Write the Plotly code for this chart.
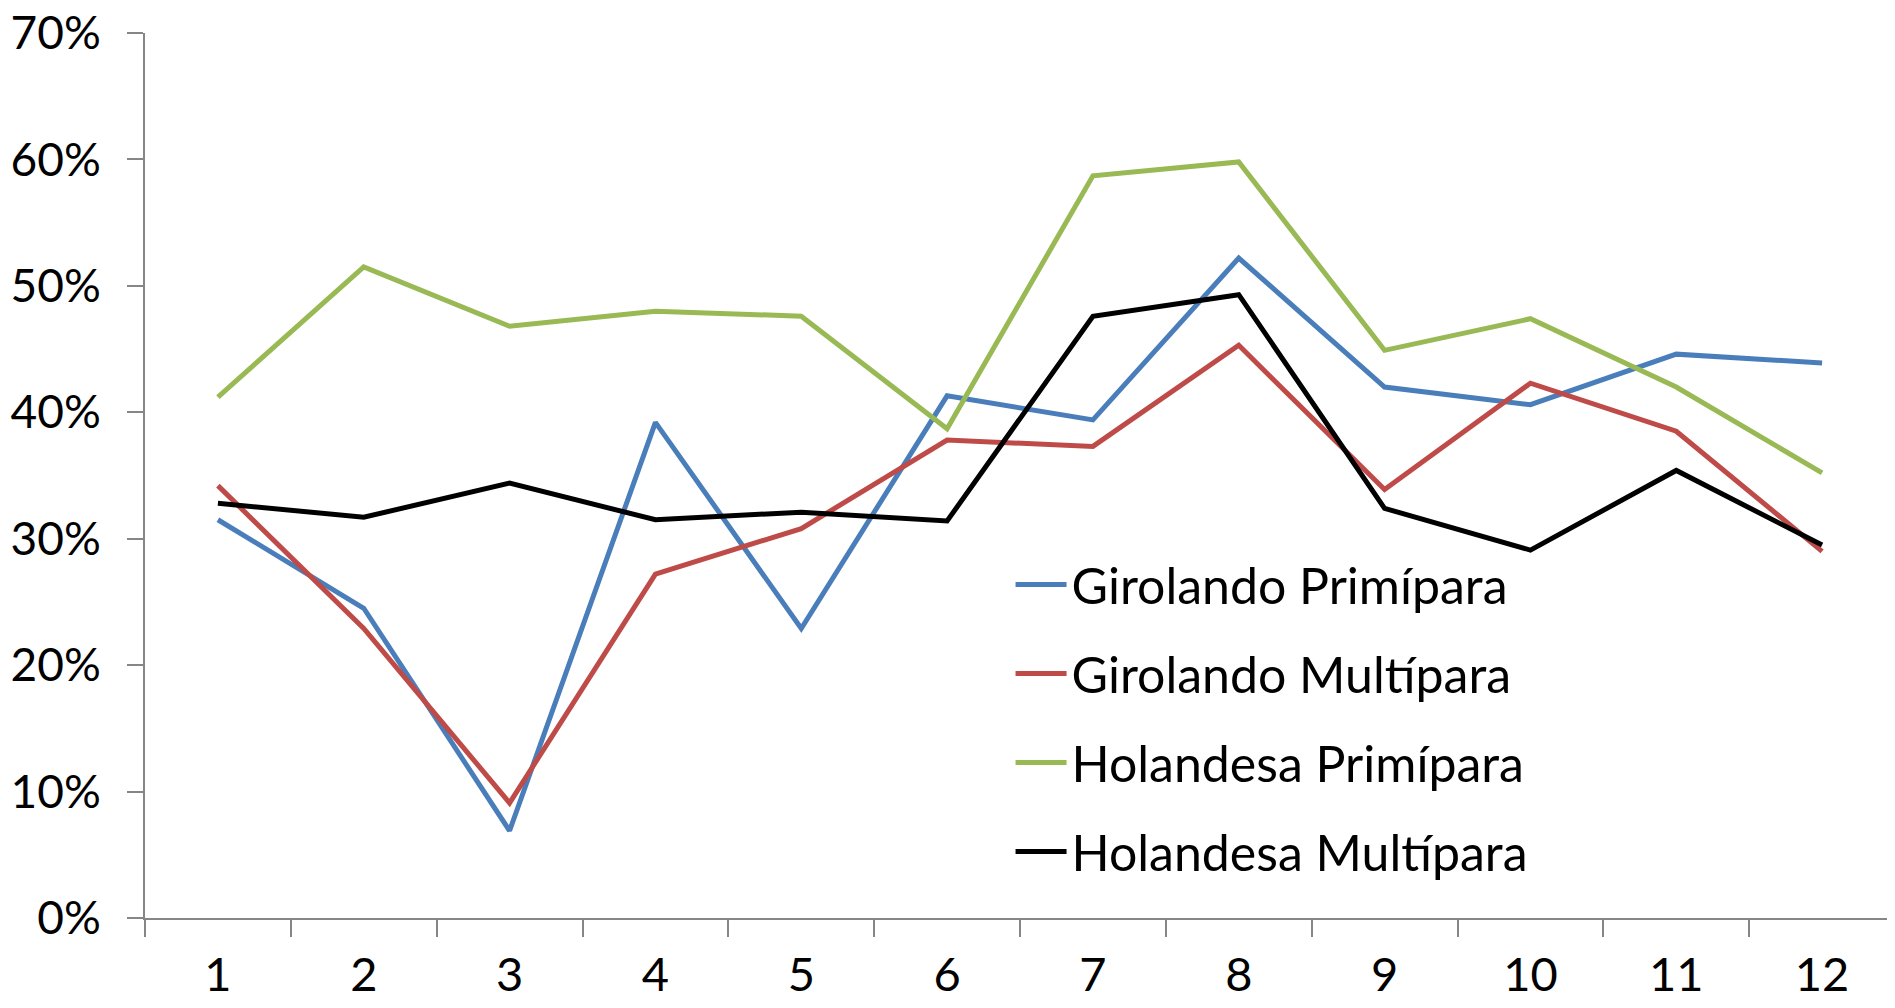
import plotly.graph_objects as go

categories = ["1", "2", "3", "4", "5", "6", "7", "8", "9", "10", "11", "12"]
girolando_primipara = [0.315, 0.245, 0.069, 0.392, 0.229, 0.413, 0.394, 0.522, 0.420, 0.406, 0.446, 0.439]
girolando_multipara = [0.342, 0.229, 0.091, 0.272, 0.308, 0.378, 0.373, 0.453, 0.339, 0.423, 0.385, 0.290]
holandesa_primipara = [0.412, 0.515, 0.468, 0.480, 0.476, 0.387, 0.587, 0.598, 0.449, 0.474, 0.420, 0.352]
holandesa_multipara = [0.328, 0.317, 0.344, 0.315, 0.321, 0.314, 0.476, 0.493, 0.324, 0.291, 0.354, 0.295]

series = [
    ("Girolando Primípara", girolando_primipara, "#4A7EBB"),
    ("Girolando Multípara", girolando_multipara, "#BE4B48"),
    ("Holandesa Primípara", holandesa_primipara, "#98B954"),
    ("Holandesa Multípara", holandesa_multipara, "#000000"),
]

fig = go.Figure()
for i, (name, vals, color) in enumerate(series):
    fig.add_trace(go.Scatter(x=categories, y=vals, name=name, mode="lines",
                             legendgroup=f"g{i}",
                             line=dict(color=color, width=5)))

font = "Lato, Carlito, Calibri, sans-serif"
fig.update_layout(
    width=1887, height=1000,
    margin=dict(l=137, r=0, t=25, b=90),
    paper_bgcolor="white", plot_bgcolor="white",
    font=dict(family=font, size=47, color="black"),
    showlegend=True,
    legend=dict(x=0.4946, y=0.421, xanchor="left", yanchor="top",
                font=dict(size=50), bgcolor="rgba(0,0,0,0)",
                traceorder="grouped", tracegroupgap=21, itemwidth=51),
    xaxis=dict(type="category", range=[-0.5, 11.5], showgrid=False,
               showline=True, linecolor="#868686", linewidth=2,
               ticks="outside", tickson="boundaries", ticklen=17,
               tickcolor="#868686", tickwidth=2, zeroline=False,
               tickfont=dict(size=47), automargin=False, ticklabelstandoff=15,
               ticklabeloverflow="allow"),
    yaxis=dict(range=[0, 0.70], dtick=0.1, tickformat=".0%", showgrid=False,
               showline=True, linecolor="#868686", linewidth=2,
               ticks="outside", ticklen=16, tickcolor="#868686", tickwidth=2,
               zeroline=False, tickfont=dict(size=46), ticklabelstandoff=17,
               automargin=False, ticklabeloverflow="allow"),
)
fig.write_html("out.html")
